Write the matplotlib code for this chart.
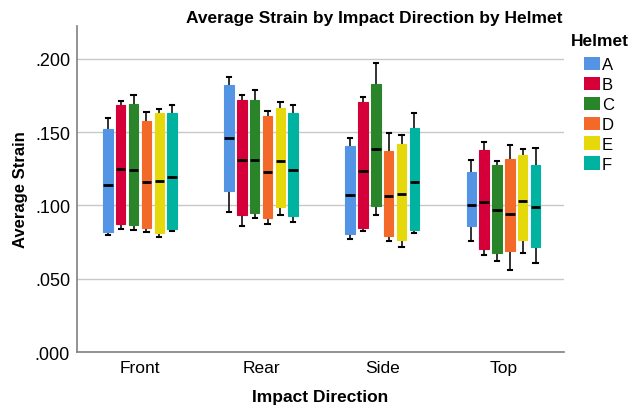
import numpy as np
import matplotlib.pyplot as plt

plt.rcParams['font.family'] = ['Liberation Sans', 'DejaVu Sans']

directions = ["Front", "Rear", "Side", "Top"]
helmets = ["A", "B", "C", "D", "E", "F"]
colors = ["#5394E4", "#D5003A", "#2A842A", "#F3692A", "#E5D80B", "#00B2A0"]

# box stats, one row per helmet, one column per direction
whisker_low = np.array([
    [0.0800, 0.0957, 0.0773, 0.0755],
    [0.0837, 0.0859, 0.0823, 0.0662],
    [0.0830, 0.0918, 0.0934, 0.0619],
    [0.0816, 0.0871, 0.0759, 0.0561],
    [0.0786, 0.0937, 0.0714, 0.0675],
    [0.0823, 0.0889, 0.0814, 0.0605],
])
q1 = np.array([
    [0.0816, 0.1098, 0.0803, 0.0859],
    [0.0873, 0.0934, 0.0843, 0.0705],
    [0.0868, 0.0950, 0.0998, 0.0673],
    [0.0848, 0.0918, 0.0789, 0.0691],
    [0.0811, 0.0989, 0.0766, 0.0766],
    [0.0839, 0.0930, 0.0830, 0.0718],
])
median = np.array([
    [0.1139, 0.1459, 0.1075, 0.1005],
    [0.1248, 0.1312, 0.1232, 0.1021],
    [0.1239, 0.1312, 0.1387, 0.0968],
    [0.1157, 0.1228, 0.1062, 0.0939],
    [0.1164, 0.1303, 0.1078, 0.1030],
    [0.1196, 0.1243, 0.1162, 0.0991],
])
q3 = np.array([
    [0.1520, 0.1823, 0.1407, 0.1228],
    [0.1685, 0.1723, 0.1707, 0.1378],
    [0.1696, 0.1723, 0.1826, 0.1276],
    [0.1576, 0.1610, 0.1371, 0.1316],
    [0.1632, 0.1664, 0.1419, 0.1348],
    [0.1634, 0.1632, 0.1530, 0.1276],
])
whisker_high = np.array([
    [0.1596, 0.1875, 0.1462, 0.1310],
    [0.1710, 0.1757, 0.1742, 0.1434],
    [0.1753, 0.1789, 0.1975, 0.1301],
    [0.1637, 0.1646, 0.1498, 0.1416],
    [0.1657, 0.1707, 0.1484, 0.1387],
    [0.1685, 0.1689, 0.1628, 0.1389],
])

fig = plt.figure(figsize=(6.3, 4.06), dpi=100)
ax = fig.add_axes([0.1222, 0.1305, 0.773, 0.803])

x = np.arange(len(directions))
step = 0.106
width = 0.078

for i, h in enumerate(helmets):
    stats = []
    for j in range(len(directions)):
        stats.append({
            "whislo": whisker_low[i, j], "q1": q1[i, j], "med": median[i, j],
            "q3": q3[i, j], "whishi": whisker_high[i, j], "fliers": [],
        })
    pos = x + (i - 2.5) * step
    bp = ax.bxp(stats, positions=pos, widths=width, patch_artist=True,
                showfliers=False, manage_ticks=False,
                boxprops=dict(facecolor=colors[i], edgecolor=colors[i], linewidth=0.8),
                medianprops=dict(color="black", linewidth=2),
                whiskerprops=dict(color="#222222", linewidth=1.3),
                capprops=dict(color="black", linewidth=1.5), capwidths=0.035)
    for b in bp["boxes"]:
        b.set_zorder(3)
    for k in ("medians", "whiskers", "caps"):
        for l in bp[k]:
            l.set_zorder(2 if k != "medians" else 4)
    ax.bar(0, 0, color=colors[i], label=h)

ax.set_xlim(-0.52, 3.5)
ax.set_ylim(0, 0.2225)
ax.set_xticks(x)
ax.set_xticklabels(directions, fontsize=12.5)
ticks = [0, 0.05, 0.10, 0.15, 0.20]
ax.set_yticks(ticks)
ax.set_yticklabels([f"{t:.3f}"[1:] for t in ticks], fontsize=13)
ax.tick_params(axis="y", length=0, pad=5)
ax.tick_params(axis="x", length=0, pad=6)
ax.grid(axis="y", color="#C8C8C8", linewidth=1)
ax.set_axisbelow(True)
for s in ("top", "right"):
    ax.spines[s].set_visible(False)
for s in ("left", "bottom"):
    ax.spines[s].set_color("#808080")
    ax.spines[s].set_linewidth(1.2)

ax.set_xlabel("Impact Direction", fontsize=12.5, fontweight="bold", labelpad=10)
ax.set_ylabel("Average Strain", fontsize=12, fontweight="bold", labelpad=5)
fig.text(374 / 630, 1 - 19 / 406, "Average Strain by Impact Direction by Helmet",
         fontsize=12.5, fontweight="bold", ha="center", va="center")

# legend title drawn on its own so the gap above the entries matches
fig.text(600 / 630, 1 - 42 / 406, "Helmet", fontsize=12.5, fontweight="bold",
         ha="center", va="center")
leg = fig.legend(loc="upper left", bbox_to_anchor=(584 / 630, 1 - 58 / 406),
                 frameon=False, fontsize=12, handlelength=0.96, handleheight=0.84,
                 handletextpad=0.1, labelspacing=0.27, borderpad=0,
                 borderaxespad=0)

fig.savefig("out.png", dpi=100)
